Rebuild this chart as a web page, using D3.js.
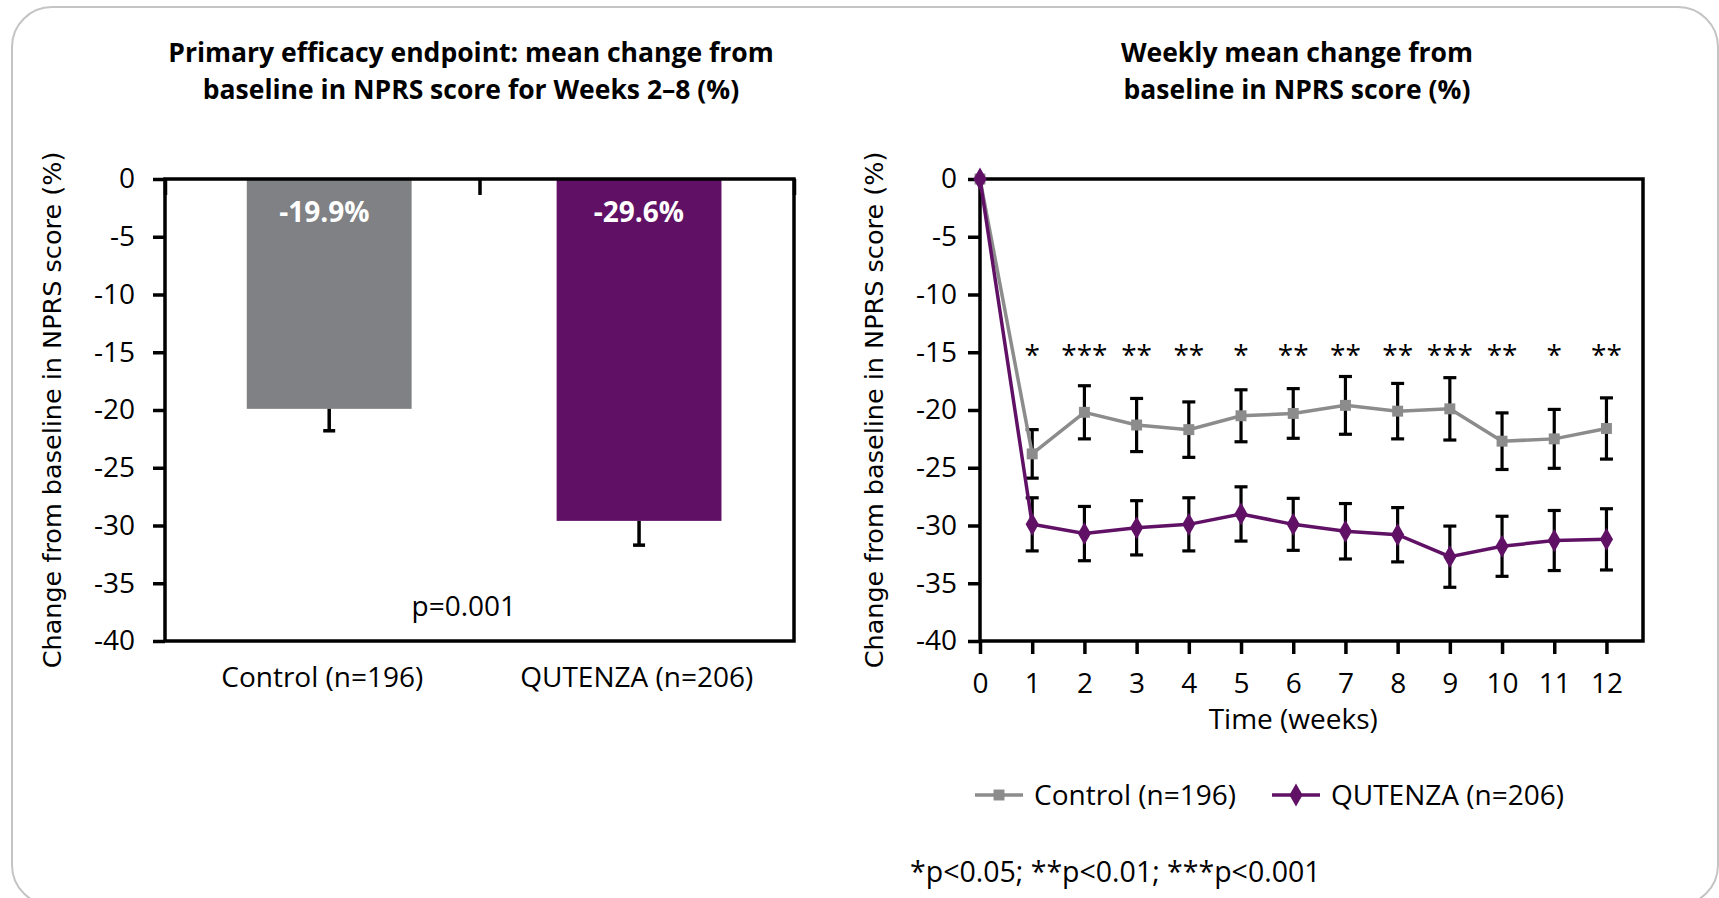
<!DOCTYPE html>
<html>
<head>
<meta charset="utf-8">
<script src="https://cdn.jsdelivr.net/npm/d3@7"></script>
<style>
  body { margin: 0; background: #fff; }
  svg { display: block; font-family: "Open Sans", sans-serif; }
</style>
</head>
<body>
<div id="container"></div>
<script>
// ---- data ----
const barCategories = ["Control (n=196)", "QUTENZA (n=206)"];
const barValues = [-19.9, -29.6];
const barErrors = [1.9, 2.1];
const barLabels = ["-19.9%", "-29.6%"];

const weeks = [0, 1, 2, 3, 4, 5, 6, 7, 8, 9, 10, 11, 12];
const controlMeans = [0, -23.8, -20.2, -21.3, -21.7, -20.5, -20.3, -19.6, -20.1, -19.9, -22.7, -22.5, -21.6];
const controlErrors = [0, 2.1, 2.3, 2.3, 2.4, 2.25, 2.15, 2.5, 2.4, 2.7, 2.45, 2.55, 2.65];
const qutenzaMeans = [0, -29.9, -30.7, -30.2, -29.9, -29.0, -29.9, -30.5, -30.8, -32.7, -31.8, -31.3, -31.2];
const qutenzaErrors = [0, 2.3, 2.35, 2.35, 2.3, 2.35, 2.25, 2.4, 2.35, 2.65, 2.6, 2.6, 2.65];
const significance = ["", "*", "***", "**", "**", "*", "**", "**", "**", "***", "**", "*", "**"];

const yTicks = [0, -5, -10, -15, -20, -25, -30, -35, -40];

const leftTitle = ["Primary efficacy endpoint: mean change from", "baseline in NPRS score for Weeks 2\u20138 (%)"];
const rightTitle = ["Weekly mean change from", "baseline in NPRS score (%)"];
const yAxisTitle = "Change from baseline in NPRS score (%)";
const pValueText = "p=0.001";
const footnote = "*p<0.05; **p<0.01; ***p<0.001";

const grey = "#808184", purple = "#601166";
const lineGrey = "#8c8c8c";
const fontSize = "28px";

const width = 1719, height = 898;

const svg = d3.select("#container")
  .append("svg")
  .attr("width", width)
  .attr("height", height);

// rounded frame
svg.append("rect")
  .attr("x", 12).attr("y", 7)
  .attr("width", 1706).attr("height", 898)
  .attr("rx", 40)
  .attr("fill", "#fff")
  .attr("stroke", "#c4c4c4")
  .attr("stroke-width", 2);

const y = d3.scaleLinear().domain([-40, 0]).range([641, 179]);

const styleAxis = (g) => {
  g.select(".domain").remove();
  g.selectAll(".tick line").attr("stroke", "#000").attr("stroke-width", 3.5);
  g.selectAll(".tick text")
    .attr("fill", "#000")
    .style("font-family", "'Open Sans', sans-serif")
    .style("font-size", fontSize);
};

const drawTitle = (lines, cx) => {
  svg.append("text")
    .attr("text-anchor", "middle")
    .style("font-weight", "bold")
    .style("font-size", "26.5px")
    .attr("fill", "#000")
    .selectAll("tspan")
    .data(lines)
    .enter()
    .append("tspan")
    .attr("x", cx)
    .attr("y", (d, i) => 62 + i * 36.5)
    .text((d) => d);
};

const drawYTitle = (cx) => {
  svg.append("text")
    .attr("transform", `translate(${cx}, ${(y(0) + y(-40)) / 2}) rotate(-90)`)
    .attr("text-anchor", "middle")
    .attr("dy", "0.35em")
    .style("font-family", "'DejaVu Sans', sans-serif")
    .style("font-size", "25.5px")
    .attr("fill", "#000")
    .text(yAxisTitle);
};

// ================= LEFT: bar chart =================
const left = { x0: 165, x1: 794 };
const catEdge = d3.scaleLinear().domain([0, barCategories.length]).range([left.x0, left.x1]);
const xBand = d3.scaleBand()
  .domain(barCategories)
  .range([left.x0, left.x1])
  .paddingInner(0.468)
  .paddingOuter(0.249)
  .align(0.53);

drawTitle(leftTitle, 471);
drawYTitle(52);

const leftG = svg.append("g");

leftG.selectAll(".bar")
  .data(barCategories)
  .enter()
  .append("rect")
  .attr("class", "bar")
  .attr("x", (d) => xBand(d))
  .attr("y", y(0))
  .attr("width", xBand.bandwidth())
  .attr("height", (d, i) => y(barValues[i]) - y(0))
  .attr("fill", (d, i) => (i === 0 ? grey : purple));

// error bars (minus direction)
const barErr = leftG.selectAll(".bar-err")
  .data(barCategories)
  .enter()
  .append("g")
  .attr("class", "bar-err")
  .attr("stroke", "#000")
  .attr("stroke-width", 3.5);
barErr.append("line")
  .attr("x1", (d) => xBand(d) + xBand.bandwidth() / 2)
  .attr("x2", (d) => xBand(d) + xBand.bandwidth() / 2)
  .attr("y1", (d, i) => y(barValues[i]))
  .attr("y2", (d, i) => y(barValues[i] - barErrors[i]));
barErr.append("line")
  .attr("x1", (d) => xBand(d) + xBand.bandwidth() / 2 - 6)
  .attr("x2", (d) => xBand(d) + xBand.bandwidth() / 2 + 6)
  .attr("y1", (d, i) => y(barValues[i] - barErrors[i]))
  .attr("y2", (d, i) => y(barValues[i] - barErrors[i]));

// value labels inside bars
leftG.selectAll(".bar-label")
  .data(barLabels)
  .enter()
  .append("text")
  .attr("x", (d, i) => catEdge(i + 0.5) + 2)
  .attr("y", y(-3.7))
  .attr("text-anchor", "middle")
  .attr("fill", "#fff")
  .style("font-weight", "bold")
  .style("font-size", "28px")
  .text((d) => d);

// frame
leftG.append("rect")
  .attr("x", left.x0).attr("y", y(0))
  .attr("width", left.x1 - left.x0).attr("height", y(-40) - y(0))
  .attr("fill", "none").attr("stroke", "#000").attr("stroke-width", 3.5);

leftG.append("g")
  .attr("transform", `translate(${left.x0}, 0)`)
  .call(d3.axisLeft(y).tickValues(yTicks).tickSize(12).tickPadding(18).tickFormat((d) => d))
  .call(styleAxis);

// category separator ticks on the zero line
leftG.append("g")
  .attr("transform", `translate(0, ${y(0)})`)
  .call(d3.axisBottom(catEdge).tickValues([0, 1, 2]).tickSize(16).tickFormat(""))
  .call(styleAxis);

leftG.selectAll(".cat-label")
  .data(barCategories)
  .enter()
  .append("text")
  .attr("x", (d, i) => catEdge(i + 0.5))
  .attr("y", 687)
  .attr("text-anchor", "middle")
  .style("font-size", fontSize)
  .attr("fill", "#000")
  .text((d) => d);

leftG.append("text")
  .attr("x", catEdge(0.95))
  .attr("y", y(-37.8))
  .attr("text-anchor", "middle")
  .style("font-size", fontSize)
  .attr("fill", "#000")
  .text(pValueText);

// ================= RIGHT: weekly line chart =================
const right = { x0: 980, x1: 1643 };
const xW = d3.scaleLinear().domain([0, 12.7]).range([right.x0, right.x1]);

drawTitle(rightTitle, 1297);
drawYTitle(874);

const rightG = svg.append("g");

rightG.append("rect")
  .attr("x", right.x0).attr("y", y(0))
  .attr("width", right.x1 - right.x0).attr("height", y(-40) - y(0))
  .attr("fill", "none").attr("stroke", "#000").attr("stroke-width", 3.5);

rightG.append("g")
  .attr("transform", `translate(${right.x0}, 0)`)
  .call(d3.axisLeft(y).tickValues(yTicks).tickSize(12).tickPadding(11).tickFormat((d) => d))
  .call(styleAxis);

rightG.append("g")
  .attr("transform", `translate(0, ${y(-40)})`)
  .call(d3.axisBottom(xW).tickValues(weeks).tickSize(13).tickPadding(19).tickFormat((d) => d))
  .call(styleAxis);

rightG.append("text")
  .attr("x", xW(6))
  .attr("y", 729)
  .attr("text-anchor", "middle")
  .style("font-size", fontSize)
  .attr("fill", "#000")
  .text("Time (weeks)");

const series = [
  { name: barCategories[0], means: controlMeans, errors: controlErrors, color: lineGrey, marker: d3.symbolSquare, size: 120 },
  { name: barCategories[1], means: qutenzaMeans, errors: qutenzaErrors, color: purple, marker: d3.symbolDiamond, size: 150 }
];

// error bars first
series.forEach((s) => {
  const eb = rightG.append("g").attr("stroke", "#000").attr("stroke-width", 3.2);
  weeks.forEach((w, i) => {
    if (!s.errors[i]) return;
    const cx = xW(w);
    const top = y(s.means[i] + s.errors[i]);
    const bot = y(s.means[i] - s.errors[i]);
    eb.append("line").attr("x1", cx).attr("x2", cx).attr("y1", top).attr("y2", bot);
    eb.append("line").attr("x1", cx - 6.5).attr("x2", cx + 6.5).attr("y1", top).attr("y2", top);
    eb.append("line").attr("x1", cx - 6.5).attr("x2", cx + 6.5).attr("y1", bot).attr("y2", bot);
  });
});

const line = d3.line().x((d) => xW(d[0])).y((d) => y(d[1]));

series.forEach((s) => {
  const pts = weeks.map((w, i) => [w, s.means[i]]);
  rightG.append("path")
    .datum(pts)
    .attr("d", line)
    .attr("fill", "none")
    .attr("stroke", s.color)
    .attr("stroke-width", 3.5);
  rightG.selectAll(null)
    .data(pts)
    .enter()
    .append("path")
    .attr("d", d3.symbol().type(s.marker).size(s.size))
    .attr("transform", (d) => `translate(${xW(d[0])}, ${y(d[1])})`)
    .attr("fill", s.color);
});

// significance stars
rightG.selectAll(".star")
  .data(weeks)
  .enter()
  .append("text")
  .attr("x", (d) => xW(d))
  .attr("y", y(-16.1))
  .attr("text-anchor", "middle")
  .style("font-size", fontSize)
  .attr("fill", "#000")
  .text((d, i) => significance[i]);

// legend
const legendItems = [
  { s: series[0], x: 975 },
  { s: series[1], x: 1272 }
];
const legend = svg.selectAll(".legend")
  .data(legendItems)
  .enter()
  .append("g")
  .attr("transform", (d) => `translate(${d.x}, 795)`);
legend.append("line")
  .attr("x1", 0).attr("x2", 48)
  .attr("stroke", (d) => d.s.color)
  .attr("stroke-width", 3.5);
legend.append("path")
  .attr("d", (d) => d3.symbol().type(d.s.marker).size(d.s.size)())
  .attr("transform", "translate(24, 0)")
  .attr("fill", (d) => d.s.color);
legend.append("text")
  .attr("x", 59)
  .attr("dy", "0.35em")
  .style("font-size", fontSize)
  .attr("fill", "#000")
  .text((d) => d.s.name);

svg.append("text")
  .attr("x", 910)
  .attr("y", 882)
  .style("font-size", "28.5px")
  .attr("fill", "#000")
  .text(footnote);
</script>
</body>
</html>
